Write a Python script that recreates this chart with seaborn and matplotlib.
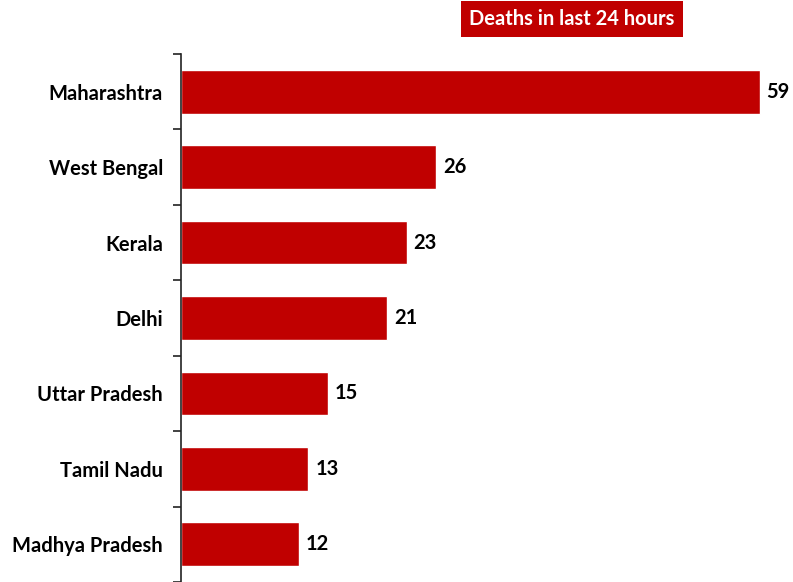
import matplotlib
matplotlib.use("Agg")
import matplotlib.pyplot as plt
import seaborn as sns
import pandas as pd
from matplotlib.ticker import FixedLocator

states = ["Maharashtra", "West Bengal", "Kerala", "Delhi", "Uttar Pradesh", "Tamil Nadu", "Madhya Pradesh"]
deaths = [59, 26, 23, 21, 15, 13, 12]
legend_label = "Deaths in last 24 hours"

RED = "#C00000"

sns.set_theme(style="white")
plt.rcParams['font.family'] = ['Lato', 'DejaVu Sans']

df = pd.DataFrame({"state": states, "deaths": deaths})

fig = plt.figure(figsize=(7.93, 5.82), dpi=100)
ax = fig.add_axes([181/793, 0.0, 1 - 181/793 - 0.005, (582-54)/582])

sns.barplot(data=df, x="deaths", y="state", color=RED, saturation=1, width=0.58, ax=ax, orient="h")

ax.set_xlim(0, 62)
ax.set_ylim(len(states) - 0.5, -0.5)
ax.set_xlabel("")
ax.set_ylabel("")
ax.set_xticks([])

for s in ["top", "right", "bottom"]:
    ax.spines[s].set_visible(False)
ax.spines["left"].set_color("#222222")
ax.spines["left"].set_linewidth(1.2)

ax.tick_params(axis="y", which="major", length=0, pad=13, labelsize=14.5)
for lbl in ax.get_yticklabels():
    lbl.set_fontweight("bold")
    lbl.set_color("#000000")
ax.yaxis.set_minor_locator(FixedLocator([i - 0.5 for i in range(len(states) + 1)]))
ax.tick_params(axis="y", which="minor", left=True, length=6, width=1.2, color="#222222", direction="out")

for i, v in enumerate(deaths):
    ax.text(v + 0.7, i, str(v), va="center", ha="left", fontsize=14.5, fontweight="bold", color="#000000")

fig.text(572/793, 1 - 19/582, legend_label, ha="center", va="center", color="white",
         fontsize=14.5, fontweight="bold",
         bbox=dict(boxstyle="square,pad=0.4", facecolor=RED, edgecolor="none"))

fig.savefig("out.png", dpi=100)
